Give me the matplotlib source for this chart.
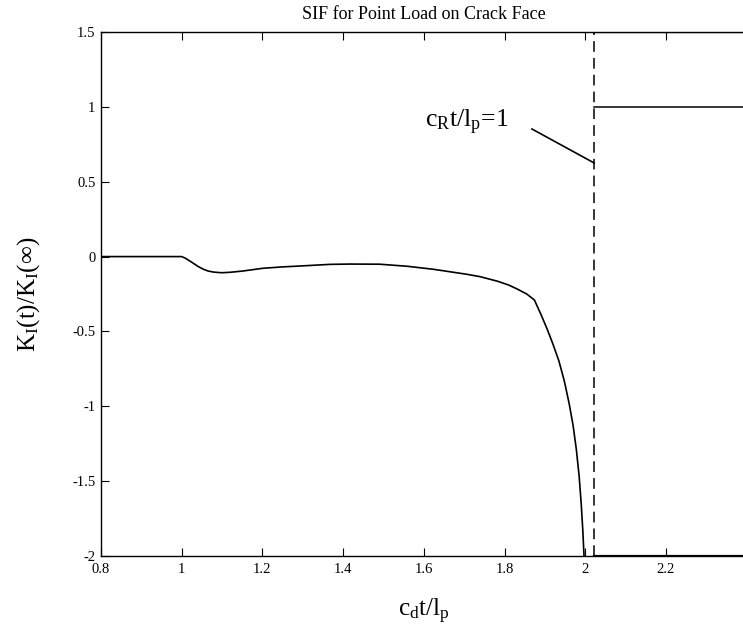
import numpy as np
import matplotlib
matplotlib.use('Agg')
import matplotlib.pyplot as plt

plt.rcParams['font.family'] = ['Liberation Serif', 'DejaVu Serif']
plt.rcParams['mathtext.fontset'] = 'custom'
plt.rcParams['mathtext.rm'] = 'Liberation Serif'
plt.rcParams['mathtext.it'] = 'Liberation Serif:italic'
plt.rcParams['axes.unicode_minus'] = False

# SIF curve before the Rayleigh arrival
x_curve = [0.8, 1.0, 1.01, 1.029, 1.04, 1.054, 1.066, 1.08, 1.099, 1.12, 1.15,
           1.202, 1.25, 1.293, 1.368, 1.417, 1.491, 1.56, 1.624, 1.706, 1.739,
           1.783, 1.81, 1.83, 1.855, 1.874, 1.89, 1.905, 1.92, 1.935, 1.948,
           1.96, 1.97, 1.978, 1.985, 1.99, 1.994, 1.997]
y_curve = [0.0, 0.0, -0.012, -0.045, -0.065, -0.085, -0.097, -0.104, -0.108, -0.105, -0.097,
           -0.078, -0.069, -0.063, -0.052, -0.05, -0.051, -0.065, -0.085, -0.118, -0.134,
           -0.165, -0.19, -0.215, -0.25, -0.29, -0.385, -0.48, -0.585, -0.70, -0.83,
           -0.98, -1.13, -1.29, -1.47, -1.65, -1.83, -2.0]

# short segment next to the c_R line
x_seg = [1.868, 2.022]
y_seg = [0.853, 0.626]

x_rayleigh = 2.022
x_after = [2.022, 2.4]
y_after = [1.0, 1.0]
y_top = [1.5, 1.5]
y_bot = [-2.0, -2.0]

xticks = [0.8, 1, 1.2, 1.4, 1.6, 1.8, 2, 2.2]
xticklabels = ['0.8', '1', '1.2', '1.4', '1.6', '1.8', '2', '2.2']
yticks = [-2, -1.5, -1, -0.5, 0, 0.5, 1, 1.5]
yticklabels = ['-2', '-1.5', '-1', '-0.5', '0', '0.5', '1', '1.5']

fig = plt.figure(figsize=(7.43, 6.32), dpi=100)
ax = fig.add_axes([0.1359, 0.1207, 0.869, 0.8283])

ax.plot(x_curve, y_curve, color='black', lw=1.2)
ax.plot(x_seg, y_seg, color='black', lw=1.2)
ax.plot(x_after, y_after, color='black', lw=1.1)
ax.plot(x_after, y_top, color='black', lw=1.6)
ax.plot(x_after, y_bot, color='black', lw=1.6)
ax.axvline(x_rayleigh, color='black', lw=1.1, linestyle=(0, (7, 4)))

ax.text(1.603, 0.9, r'$\mathrm{c_R t/l_p}$=1', fontsize=18.5, va='center', ha='left')

ax.set_xlim(0.8, 2.4)
ax.set_ylim(-2, 1.5)
ax.set_xticks(xticks)
ax.set_xticklabels(xticklabels)
ax.set_yticks(yticks)
ax.set_yticklabels(yticklabels)
ax.tick_params(direction='in', length=6, width=0.8, labelsize=10.5,
               top=True, right=False)
ax.tick_params(axis='x', pad=5)
ax.tick_params(axis='y', pad=4)
ax.spines['right'].set_visible(False)
for s in ['left', 'bottom', 'top']:
    ax.spines[s].set_linewidth(1.0)

ax.set_title('SIF for Point Load on Crack Face', fontsize=13, pad=9.5)
ax.set_xlabel(r'$\mathrm{c_d t/l_p}$', fontsize=18, labelpad=15)
ax.set_ylabel(r'$\mathrm{K_I(t)/K_I(\infty)}$', fontsize=18, labelpad=22)

fig.savefig('out.png', dpi=100)
